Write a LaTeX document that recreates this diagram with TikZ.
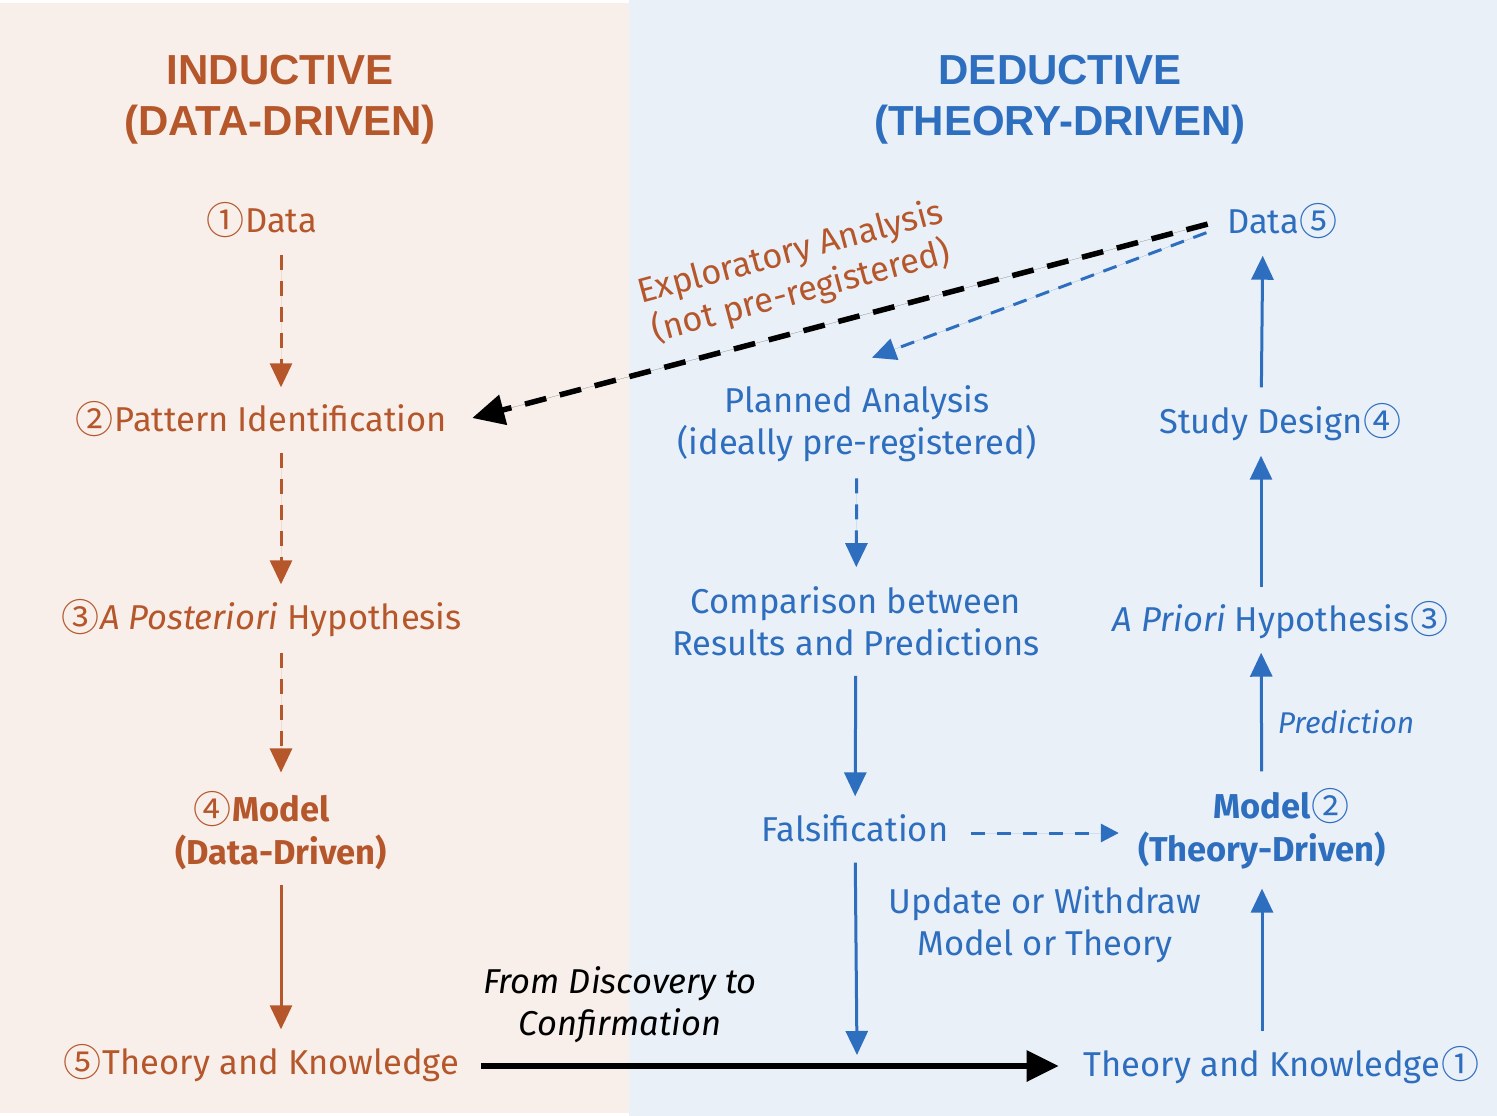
\documentclass[tikz,border=0pt]{standalone}
\usepackage{fontspec}
\setmainfont{Fira Sans}
\newfontfamily\titlefont{Liberation Sans}
\newfontfamily\symfont{Noto Sans CJK SC}
\usetikzlibrary{arrows.meta}
\definecolor{orng}{HTML}{B5572B}
\definecolor{blu}{HTML}{2E6EBF}
\definecolor{lbg}{HTML}{F8EFEA}
\definecolor{rbg}{HTML}{EAF0F8}
\newcommand{\cnum}[1]{\raisebox{-2pt}{\symfont\fontsize{38}{38}\selectfont\mdseries\upshape #1}}
\newcommand{\cnl}[1]{\llap{\cnum{#1}\hspace{1pt}}}
\newcommand{\cnr}[1]{\rlap{\hspace{1pt}\cnum{#1}}}
\tikzset{
  txt/.style={font=\fontsize{34.5}{42}\selectfont, inner sep=0pt, text height=25pt, text depth=8pt},
  mtxt/.style={font=\fontsize{34.5}{42}\selectfont, inner sep=0pt, align=center},
  ttl/.style={font=\titlefont\bfseries\fontsize{42}{51}\selectfont, inner sep=0pt, align=center},
  tip/.style={-{Triangle[length=24pt,width=22pt]}},
  odash/.style={tip, draw=orng, fill=orng, line width=3pt, dash pattern=on 15pt off 11pt},
  osolid/.style={tip, draw=orng, fill=orng, line width=3pt},
  bdash/.style={tip, draw=blu, fill=blu, line width=3pt, dash pattern=on 15pt off 11pt},
  bsolid/.style={tip, draw=blu, fill=blu, line width=3pt},
  kdash/.style={-{Triangle[length=32pt,width=30pt]}, draw=black, fill=black, line width=5.5pt, dash pattern=on 22pt off 14pt},
  ksolid/.style={-{Triangle[length=32pt,width=30pt]}, draw=black, fill=black, line width=6pt},
}
\begin{document}
\begin{tikzpicture}[x=1pt,y=-1pt]
\useasboundingbox (0,0) rectangle (1497,1116);
\fill[white] (0,0) rectangle (1497,1116);
\fill[lbg] (0,3) rectangle (629,1113);
\fill[rbg] (629,0) rectangle (1497,1116);

% titles
\node[ttl, text=orng] (lt) at (280,100) {INDUCTIVE\\(DATA-DRIVEN)};
\node[ttl, text=blu] (rt) at (1060,100) {DEDUCTIVE\\(THEORY-DRIVEN)};

% inductive column
\node[txt, text=orng] (L1) at (281,224) {\cnl{①}Data};
\node[txt, text=orng] (L2) at (281,423) {\cnl{②}Pattern Identification};
\node[txt, text=orng] (L3) at (281,621) {\cnl{③}\textit{A Posteriori} Hypothesis};
\node[mtxt, text=orng, font=\fontsize{34.5}{43}\selectfont\bfseries] (L4) at (281,831) {\cnl{④}Model\\(Data-Driven)};
\node[txt, text=orng] (L5) at (281,1066) {\cnl{⑤}Theory and Knowledge};

% deductive column
\node[txt, text=blu] (R5) at (1263,225) {Data\cnr{⑤}};
\node[txt, text=blu] (R4) at (1261,425) {Study Design\cnr{④}};
\node[txt, text=blu] (R3) at (1261,623) {\textit{A Priori} Hypothesis\cnr{③}};
\node[mtxt, text=blu, font=\fontsize{34.5}{43}\selectfont\bfseries] (R2) at (1262,829) {Model\cnr{②}\\(Theory-Driven)};
\node[txt, text=blu] (R1) at (1262,1068) {Theory and Knowledge\cnr{①}};
\node[txt, text=blu, font=\fontsize{30}{42}\selectfont\itshape] (pred) at (1346,725) {Prediction};

% middle column
\node[mtxt, text=blu] (M1) at (857,424) {Planned Analysis\\(ideally pre-registered)};
\node[mtxt, text=blu] (M2) at (856,621) {Comparison between\\Results and Predictions};
\node[txt, text=blu] (M3) at (855,833) {Falsification};
\node[mtxt, text=blu] (upd) at (1045,925) {Update or Withdraw\\Model or Theory};
\node[mtxt, text=black, font=\fontsize{34.5}{42}\selectfont\itshape] (disc) at (620,1005) {From Discovery to\\Confirmation};
\node[mtxt, text=orng, rotate=15, font=\fontsize{34.5}{41}\selectfont] (expl) at (796,273) {Exploratory Analysis\\(not pre-registered)};

\coordinate (fb) at (857,1055);

% inductive arrows
\draw[odash, shorten <=14pt, shorten >=19pt] (L1) -- (L2);
\draw[odash, shorten <=13pt, shorten >=20pt] (L2) -- (L3);
\draw[odash, shorten <=15pt, shorten >=19pt] (L3) -- (L4);
\draw[osolid, shorten <=14pt, shorten >=20pt] (L4) -- (L5);

% deductive arrows
\draw[bsolid, shorten <=20pt, shorten >=19pt] (R1) -- (R2);
\draw[bsolid, shorten <=17pt, shorten >=13pt] (R2) -- (R3);
\draw[bsolid, shorten <=19pt, shorten >=14pt] (R3) -- (R4);
\draw[bsolid, shorten <=21pt, shorten >=14pt] (R4) -- (R5);

% middle arrows
\draw[bdash, shorten <=16pt, shorten >=19pt] (M1) -- (M2);
\draw[bsolid, shorten <=20pt, shorten >=20pt] (M2) -- (M3);
\draw[bsolid, shorten <=13pt] (M3) -- (fb);
\draw[-{Triangle[length=18pt,width=18pt]}, draw=blu, fill=blu, line width=3pt, dash pattern=on 14pt off 12pt, shorten <=23pt, shorten >=19pt] (M3.east) -- (M3.east -| R2.west);

% cross arrows
\draw[ksolid, shorten <=22pt, shorten >=25pt] (L5.east) -- (L5.east -| R1.west);
\draw[kdash, shorten <=20pt] ([yshift=6pt]R5.west) -- ([xshift=25pt,yshift=5pt]L2.east);
\draw[bdash, dash pattern=on 14pt off 10pt, shorten <=22pt] (R5.west) -- ([xshift=15pt,yshift=28pt]M1.north);
\end{tikzpicture}
\end{document}
